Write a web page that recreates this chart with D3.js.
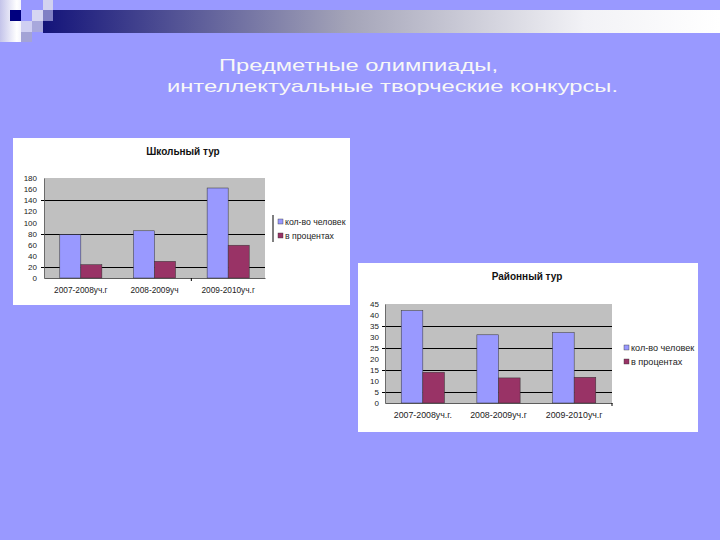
<!DOCTYPE html>
<html>
<head>
<meta charset="utf-8">
<script src="https://cdn.jsdelivr.net/npm/d3@7"></script>
<style>
  html, body { margin: 0; padding: 0; background: #9999ff; }
  svg { display: block; }
</style>
</head>
<body>
<svg id="slide" width="720" height="540"></svg>
<script>
// ---------- data ----------
const slideTitle = ["Предметные олимпиады,", "интеллектуальные творческие конкурсы."];
const seriesNames = ["кол-во человек", "в процентах"];

const schoolTitle = "Школьный тур";
const schoolCategories = ["2007-2008уч.г", "2008-2009уч", "2009-2010уч.г"];
const schoolPeople = [78, 85, 162];
const schoolPercent = [24, 30, 59];
const schoolTicks = [0, 20, 40, 60, 80, 100, 120, 140, 160, 180];
const schoolGrid = [20, 80, 140];

const districtTitle = "Районный тур";
const districtCategories = ["2007-2008уч.г.", "2008-2009уч.г", "2009-2010уч.г"];
const districtPeople = [42, 31, 32];
const districtPercent = [14, 11.4, 11.7];
const districtTicks = [0, 5, 10, 15, 20, 25, 30, 35, 40, 45];
const districtGrid = [5, 15, 25, 35];

// ---------- styles ----------
const BG = "#9999ff";
const COLORS = ["#9999ff", "#993366"];
const FONT = "'Liberation Sans', Arial, sans-serif";

const svg = d3.select("#slide");
svg.append("rect").attr("width", 720).attr("height", 540).attr("fill", BG);

// ---------- decoration (top-left squares + gradient bar) ----------
const defs = svg.append("defs");
const g1 = defs.append("linearGradient").attr("id", "barGrad").attr("x1", "0").attr("x2", "1");
g1.append("stop").attr("offset", "0").attr("stop-color", "#14147a");
g1.append("stop").attr("offset", "0.45").attr("stop-color", "#a4a4b8");
g1.append("stop").attr("offset", "0.8").attr("stop-color", "#f2f2f6");
g1.append("stop").attr("offset", "1").attr("stop-color", "#ffffff");
const g2 = defs.append("linearGradient").attr("id", "stripGrad").attr("x1", "0").attr("x2", "1");
g2.append("stop").attr("offset", "0").attr("stop-color", "#c4c4ea");
g2.append("stop").attr("offset", "0.8").attr("stop-color", "#ffffff");
g2.append("stop").attr("offset", "1").attr("stop-color", "#f4f4fc");

svg.append("rect").attr("x", 43).attr("y", 10).attr("width", 677).attr("height", 23).attr("fill", "url(#barGrad)");
svg.append("rect").attr("x", 0).attr("y", 0).attr("width", 21).attr("height", 42).attr("fill", "url(#stripGrad)");
const squares = [
  [10, 10, 11, 11, "#00007f"],
  [21, 21, 11, 11, "#cfcff2"],
  [21, 32, 11, 10, "#a3a3d6"],
  [32, 10, 11, 11, "#d6d6f2"],
  [32, 21, 11, 11, "#a8a8dc"],
  [43, 0, 10, 10, "#d2d2f0"],
  [43, 10, 10, 11, "#8080c4"]
];
svg.selectAll("rect.sq").data(squares).enter().append("rect")
  .attr("class", "sq")
  .attr("x", d => d[0]).attr("y", d => d[1])
  .attr("width", d => d[2]).attr("height", d => d[3])
  .attr("fill", d => d[4]);

// ---------- slide title ----------
svg.append("text").attr("x", 219).attr("y", 71)
  .attr("font-family", FONT).attr("font-size", 17).attr("fill", "#f7f7f7")
  .attr("textLength", 279).attr("lengthAdjust", "spacingAndGlyphs")
  .text(slideTitle[0]);
svg.append("text").attr("x", 167).attr("y", 92)
  .attr("font-family", FONT).attr("font-size", 17).attr("fill", "#f7f7f7")
  .attr("textLength", 451).attr("lengthAdjust", "spacingAndGlyphs")
  .text(slideTitle[1]);

// ---------- chart builder ----------
function drawChart(cfg) {
  const g = svg.append("g");
  g.append("rect").attr("x", cfg.box[0]).attr("y", cfg.box[1])
    .attr("width", cfg.box[2]).attr("height", cfg.box[3]).attr("fill", "#ffffff");

  g.append("text").attr("x", cfg.titleX).attr("y", cfg.titleY)
    .attr("text-anchor", "middle").attr("font-family", FONT)
    .attr("font-size", 10).attr("font-weight", "bold").attr("fill", "#111")
    .text(cfg.title);

  const x = d3.scaleBand().domain(cfg.categories).range([cfg.left, cfg.right]).paddingInner(0).paddingOuter(0);
  const y = d3.scaleLinear().domain([0, cfg.ticks[cfg.ticks.length - 1]]).range([cfg.bottom, cfg.top]);
  const xs = d3.scaleBand().domain([0, 1]).range([0, x.bandwidth()]).paddingInner(0).paddingOuter(0.75);

  g.append("rect").attr("x", cfg.left).attr("y", cfg.top)
    .attr("width", cfg.right - cfg.left).attr("height", cfg.bottom - cfg.top)
    .attr("fill", "#c0c0c0");

  g.selectAll("line.grid").data(cfg.grid).enter().append("line")
    .attr("x1", cfg.left - 3).attr("x2", cfg.right)
    .attr("y1", d => Math.round(y(d)) + 0.5).attr("y2", d => Math.round(y(d)) + 0.5)
    .attr("stroke", "#000").attr("stroke-width", 1.2);

  const series = [cfg.people, cfg.percent];
  series.forEach((vals, si) => {
    g.selectAll(null).data(vals).enter().append("rect")
      .attr("x", (d, i) => x(cfg.categories[i]) + xs(si))
      .attr("y", d => y(d))
      .attr("width", xs.bandwidth())
      .attr("height", d => cfg.bottom - y(d))
      .attr("fill", COLORS[si])
      .attr("stroke", "#333").attr("stroke-width", 0.5);
  });

  // y axis
  const ya = g.append("g").attr("transform", `translate(${cfg.left},0)`)
    .call(d3.axisLeft(y).tickValues(cfg.ticks).tickSize(0).tickPadding(cfg.tickPad).tickFormat(d3.format("d")));
  ya.select(".domain").attr("stroke", "#555").attr("stroke-width", 0.8);
  ya.selectAll("text").attr("font-family", FONT).attr("font-size", 8).attr("fill", "#222");

  // x axis
  const xa = g.append("g").attr("transform", `translate(0,${cfg.bottom})`)
    .call(d3.axisBottom(x).tickSize(0).tickPadding(cfg.xPad));
  xa.select(".domain").attr("stroke", "#333").attr("stroke-width", 0.8);
  xa.selectAll("text").attr("font-family", FONT).attr("font-size", cfg.xFont).attr("fill", "#222");
  g.selectAll("line.xt").data(cfg.xTickAt).enter().append("line")
    .attr("x1", d => x(cfg.categories[d]) + x.bandwidth()).attr("x2", d => x(cfg.categories[d]) + x.bandwidth())
    .attr("y1", cfg.bottom).attr("y2", cfg.bottom + 3).attr("stroke", "#000");

  // legend
  if (cfg.legendLine) {
    g.append("line").attr("x1", cfg.legendLine[0]).attr("x2", cfg.legendLine[0])
      .attr("y1", cfg.legendLine[1]).attr("y2", cfg.legendLine[2]).attr("stroke", "#000");
  }
  seriesNames.forEach((name, i) => {
    const ly = cfg.legendY + i * cfg.legendStep;
    g.append("rect").attr("x", cfg.legendX).attr("y", ly - 3)
      .attr("width", 5).attr("height", 5).attr("fill", COLORS[i]).attr("stroke", "#333").attr("stroke-width", 0.4);
    g.append("text").attr("x", cfg.legendX + 7).attr("y", ly + 3)
      .attr("font-family", FONT).attr("font-size", cfg.legendFont).attr("fill", "#222").text(name);
  });
}

drawChart({
  box: [13, 138, 337, 167],
  title: schoolTitle, titleX: 183, titleY: 155,
  categories: schoolCategories, people: schoolPeople, percent: schoolPercent,
  ticks: schoolTicks, grid: schoolGrid,
  left: 44, right: 265, top: 178, bottom: 278,
  tickPad: 7, xPad: 9, xFont: 8.3, xTickAt: [1],
  legendLine: [273, 215, 242], legendX: 278, legendY: 222, legendStep: 14, legendFont: 8.7
});

drawChart({
  box: [358, 263, 340, 169],
  title: districtTitle, titleX: 527, titleY: 280,
  categories: districtCategories, people: districtPeople, percent: districtPercent,
  ticks: districtTicks, grid: districtGrid,
  left: 385, right: 612, top: 304, bottom: 403,
  tickPad: 6, xPad: 9, xFont: 8.8, xTickAt: [2],
  legendLine: null, legendX: 624, legendY: 348, legendStep: 14, legendFont: 9.1
});
</script>
</body>
</html>
